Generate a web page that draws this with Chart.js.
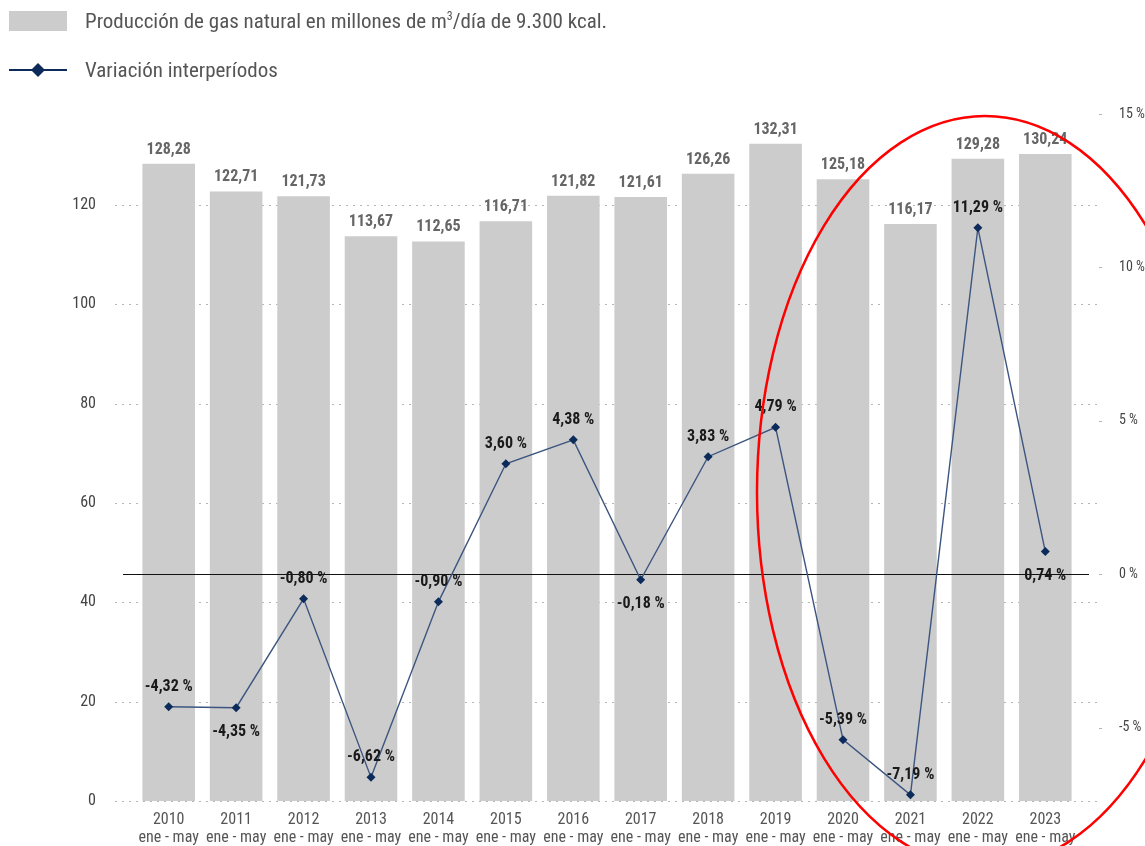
<!DOCTYPE html>
<html>
<head>
<meta charset="utf-8">
<script src="https://cdn.jsdelivr.net/npm/chart.js@4/dist/chart.umd.min.js"></script>
<style>
  body { margin: 0; background: #fff; width: 1145px; height: 846px; overflow: hidden; position: relative;
         font-family: 'Liberation Sans Narrow', 'Roboto Condensed', Roboto, sans-serif; }
  #chartBox { position: absolute; left: 0; top: 0; width: 1145px; height: 846px; }
  .leg { position: absolute; left: 0; color: #555; font-size: 21px; line-height: 22px; }
  .leg .txt { position: absolute; left: 85px; top: 0; white-space: nowrap; }
  .leg sup { font-size: 12px; line-height: 0; vertical-align: 8px; }
  .swatch { position: absolute; left: 9px; top: 1px; width: 58px; height: 20px; background: #cccccc; }
</style>
</head>
<body>
<div id="chartBox"><canvas id="myChart" width="1145" height="846"></canvas></div>
<div class="leg" style="top:10px">
  <span class="swatch"></span>
  <span class="txt">Producción de gas natural en millones de m<sup>3</sup>/día de 9.300 kcal.</span>
</div>
<div class="leg" style="top:59px">
  <svg style="position:absolute;left:9px;top:1px" width="60" height="20">
    <line x1="0" y1="10" x2="58" y2="10" stroke="#0d2b5a" stroke-width="2"/>
    <polygon points="29,3 36,10 29,17 22,10" fill="#0d2b5a"/>
  </svg>
  <span class="txt">Variación interperíodos</span>
</div>
<script>
const years = ['2010', '2011', '2012', '2013', '2014', '2015', '2016', '2017', '2018', '2019', '2020', '2021', '2022', '2023'];
const period = 'ene - may';
const produccion = [128.28, 122.71, 121.73, 113.67, 112.65, 116.71, 121.82, 121.61, 126.26, 132.31, 125.18, 116.17, 129.28, 130.24];
const variacion = [-4.32, -4.35, -0.80, -6.62, -0.90, 3.60, 4.38, -0.18, 3.83, 4.79, -5.39, -7.19, 11.29, 0.74];
const variacionBelow = [false, true, false, false, false, false, false, true, false, false, false, false, false, true];
const leftTicks = [0, 20, 40, 60, 80, 100, 120];
const rightTicks = [-5, 0, 5, 10, 15];

const FONT = "'Liberation Sans Narrow', 'Roboto Condensed', Roboto, sans-serif";
Chart.defaults.font.family = FONT;

function fmt(v) {
    return v.toFixed(2).replace('.', ',');
}

// dotted gridlines behind bars
const gridPlugin = {
    id: 'dottedGrid',
    beforeDatasetsDraw(chart) {
        const ctx = chart.ctx, a = chart.chartArea;
        const y = chart.scales.y, y1 = chart.scales.y1;
        ctx.save();
        ctx.strokeStyle = '#b5b5b5';
        ctx.lineWidth = 1;
        ctx.setLineDash([2, 5]);
        leftTicks.forEach(function(t) {
            const py = Math.round(y.getPixelForValue(t)) + 0.5;
            ctx.beginPath();
            ctx.moveTo(a.left - 20, py);
            ctx.lineTo(a.right + 18, py);
            ctx.stroke();
        });
        ctx.setLineDash([]);
        rightTicks.forEach(function(t) {
            const py = Math.round(y1.getPixelForValue(t)) + 0.5;
            ctx.beginPath();
            ctx.moveTo(a.right + 20, py);
            ctx.lineTo(a.right + 23, py);
            ctx.stroke();
        });
        ctx.restore();
    }
};

// zero line over bars, labels and the red highlight
const overlayPlugin = {
    id: 'overlay',
    afterDatasetDraw(chart, args) {
        if (args.index !== 0) return;
        const ctx = chart.ctx, a = chart.chartArea;
        const py = Math.round(chart.scales.y1.getPixelForValue(0)) + 0.5;
        ctx.save();
        ctx.strokeStyle = '#111';
        ctx.lineWidth = 1.2;
        ctx.beginPath();
        ctx.moveTo(a.left - 12, py);
        ctx.lineTo(a.right + 10, py);
        ctx.stroke();
        ctx.restore();
    },
    afterDatasetsDraw(chart) {
        const ctx = chart.ctx, a = chart.chartArea;
        ctx.save();
        ctx.textAlign = 'center';
        ctx.textBaseline = 'middle';
        ctx.font = 'bold 16px ' + FONT;
        ctx.fillStyle = '#666';
        chart.getDatasetMeta(0).data.forEach(function(bar, i) {
            ctx.fillText(fmt(produccion[i]), bar.x, bar.y - 14);
        });
        ctx.fillStyle = '#1a1a1a';
        chart.getDatasetMeta(1).data.forEach(function(pt, i) {
            const dy = variacionBelow[i] ? 24 : -20;
            ctx.fillText(fmt(variacion[i]) + ' %', pt.x, pt.y + dy);
        });
        // red highlight ellipse
        ctx.strokeStyle = '#ff0000';
        ctx.lineWidth = 2.5;
        ctx.beginPath();
        ctx.ellipse(a.right - 94, a.top + 378, 228, 376, 0, 0, Math.PI * 2);
        ctx.stroke();
        ctx.restore();
    }
};

document.addEventListener('DOMContentLoaded', function() {
    const myChart = document.getElementById('myChart');
    new Chart(myChart, {
        data: {
            labels: years.map(function(y) { return [y, period]; }),
            datasets: [
                {
                    type: 'bar',
                    label: 'Producción',
                    data: produccion,
                    yAxisID: 'y',
                    backgroundColor: '#cccccc',
                    borderWidth: 0,
                    categoryPercentage: 1,
                    barPercentage: 0.78,
                    order: 2
                },
                {
                    type: 'line',
                    label: 'Variación interperíodos',
                    data: variacion,
                    yAxisID: 'y1',
                    borderColor: '#3d5680',
                    borderWidth: 1.4,
                    pointStyle: 'rectRot',
                    pointRadius: 4.5,
                    pointBackgroundColor: '#0d2b5a',
                    pointBorderColor: '#0d2b5a',
                    pointBorderWidth: 0,
                    tension: 0,
                    order: 1
                }
            ]
        },
        options: {
            responsive: false,
            animation: false,
            layout: { padding: { top: 114, left: 0, right: 0, bottom: 0 } },
            plugins: { legend: { display: false }, tooltip: { enabled: false } },
            scales: {
                x: {
                    grid: { display: false },
                    border: { display: false },
                    ticks: { color: '#555', font: { size: 16, lineHeight: 1.12 }, padding: 2, maxRotation: 0, autoSkip: false },
                    afterFit: function(s) { s.height = 45; }
                },
                y: {
                    position: 'left',
                    min: 0,
                    max: 138.3,
                    grid: { display: false },
                    border: { display: false },
                    afterBuildTicks: function(s) { s.ticks = leftTicks.map(function(v) { return { value: v }; }); },
                    ticks: { color: '#444', font: { size: 16 }, padding: 31 },
                    afterFit: function(s) { s.width = 135; }
                },
                y1: {
                    position: 'right',
                    min: -7.39,
                    max: 15,
                    grid: { display: false },
                    border: { display: false },
                    afterBuildTicks: function(s) { s.ticks = rightTicks.map(function(v) { return { value: v }; }); },
                    ticks: { color: '#444', font: { size: 14 }, padding: 32, callback: function(v) { return v + ' %'; } },
                    afterFit: function(s) { s.width = 66; }
                }
            }
        },
        plugins: [gridPlugin, overlayPlugin]
    });
});
</script>
</body>
</html>
